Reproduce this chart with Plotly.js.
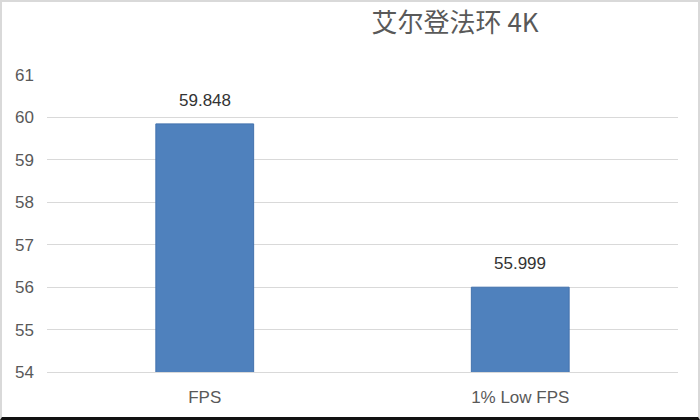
<!DOCTYPE html>
<html>
<head>
<meta charset="utf-8">
<script src="https://cdn.plot.ly/plotly-3.0.1.min.js"></script>
<style>
  body { margin: 0; background: #fff; }
  #chart {
    width: 700px; height: 420px; box-sizing: border-box;
    border-top: 2px solid #d9d9d9; border-left: 2px solid #d9d9d9;
    border-right: 2px solid #d9d9d9; border-bottom: 3px solid #111;
  }
</style>
</head>
<body>
<div id="chart"></div>
<script>
// data
const categories = ['FPS', '1% Low FPS'];
const fpsValues = [59.848, 55.999];
const labelTexts = ['59.848', '55.999'];

const chartDiv = document.getElementById('chart');
const latin = '"Liberation Sans", Arial, sans-serif';

// value labels above the bars
var labels = [];
for (var i = 0; i < categories.length; i++) {
  labels.push({
    x: categories[i], y: fpsValues[i], text: labelTexts[i],
    xref: 'x', yref: 'y', yanchor: 'bottom', yshift: 12,
    showarrow: false,
    font: { size: 17, color: '#333333', family: latin }
  });
}

Plotly.newPlot(chartDiv, [
  {
    type: 'bar',
    x: categories,
    y: fpsValues,
    marker: { color: '#4f81bd', line: { color: '#4372ad', width: 1 } },
    hoverinfo: 'x+y'
  }
], {
  width: 696,
  height: 415,
  margin: { l: 45, r: 20, t: 73, b: 45 },
  paper_bgcolor: '#ffffff',
  plot_bgcolor: '#ffffff',
  font: { family: '"Noto Sans CJK SC", "Liberation Sans", Arial, sans-serif', color: '#595959' },
  title: {
    text: '艾尔登法环 4K',
    font: { size: 26, color: '#595959' },
    xref: 'container', x: 0.651, xanchor: 'center',
    yref: 'container', y: 0.95, yanchor: 'middle'
  },
  annotations: labels,
  bargap: 0.69,
  showlegend: false,
  xaxis: {
    tickfont: { size: 17, color: '#595959', family: latin },
    showline: true, linecolor: '#d9d9d9', linewidth: 1,
    ticks: '', ticklabelstandoff: 10, fixedrange: true
  },
  yaxis: {
    range: [54, 61],
    dtick: 1,
    tickfont: { size: 17, color: '#595959', family: latin },
    gridcolor: '#d9d9d9', gridwidth: 1,
    zeroline: false, ticks: '',
    ticklabelstandoff: 12,
    fixedrange: true
  }
}, { displayModeBar: false, staticPlot: true });
</script>
</body>
</html>
